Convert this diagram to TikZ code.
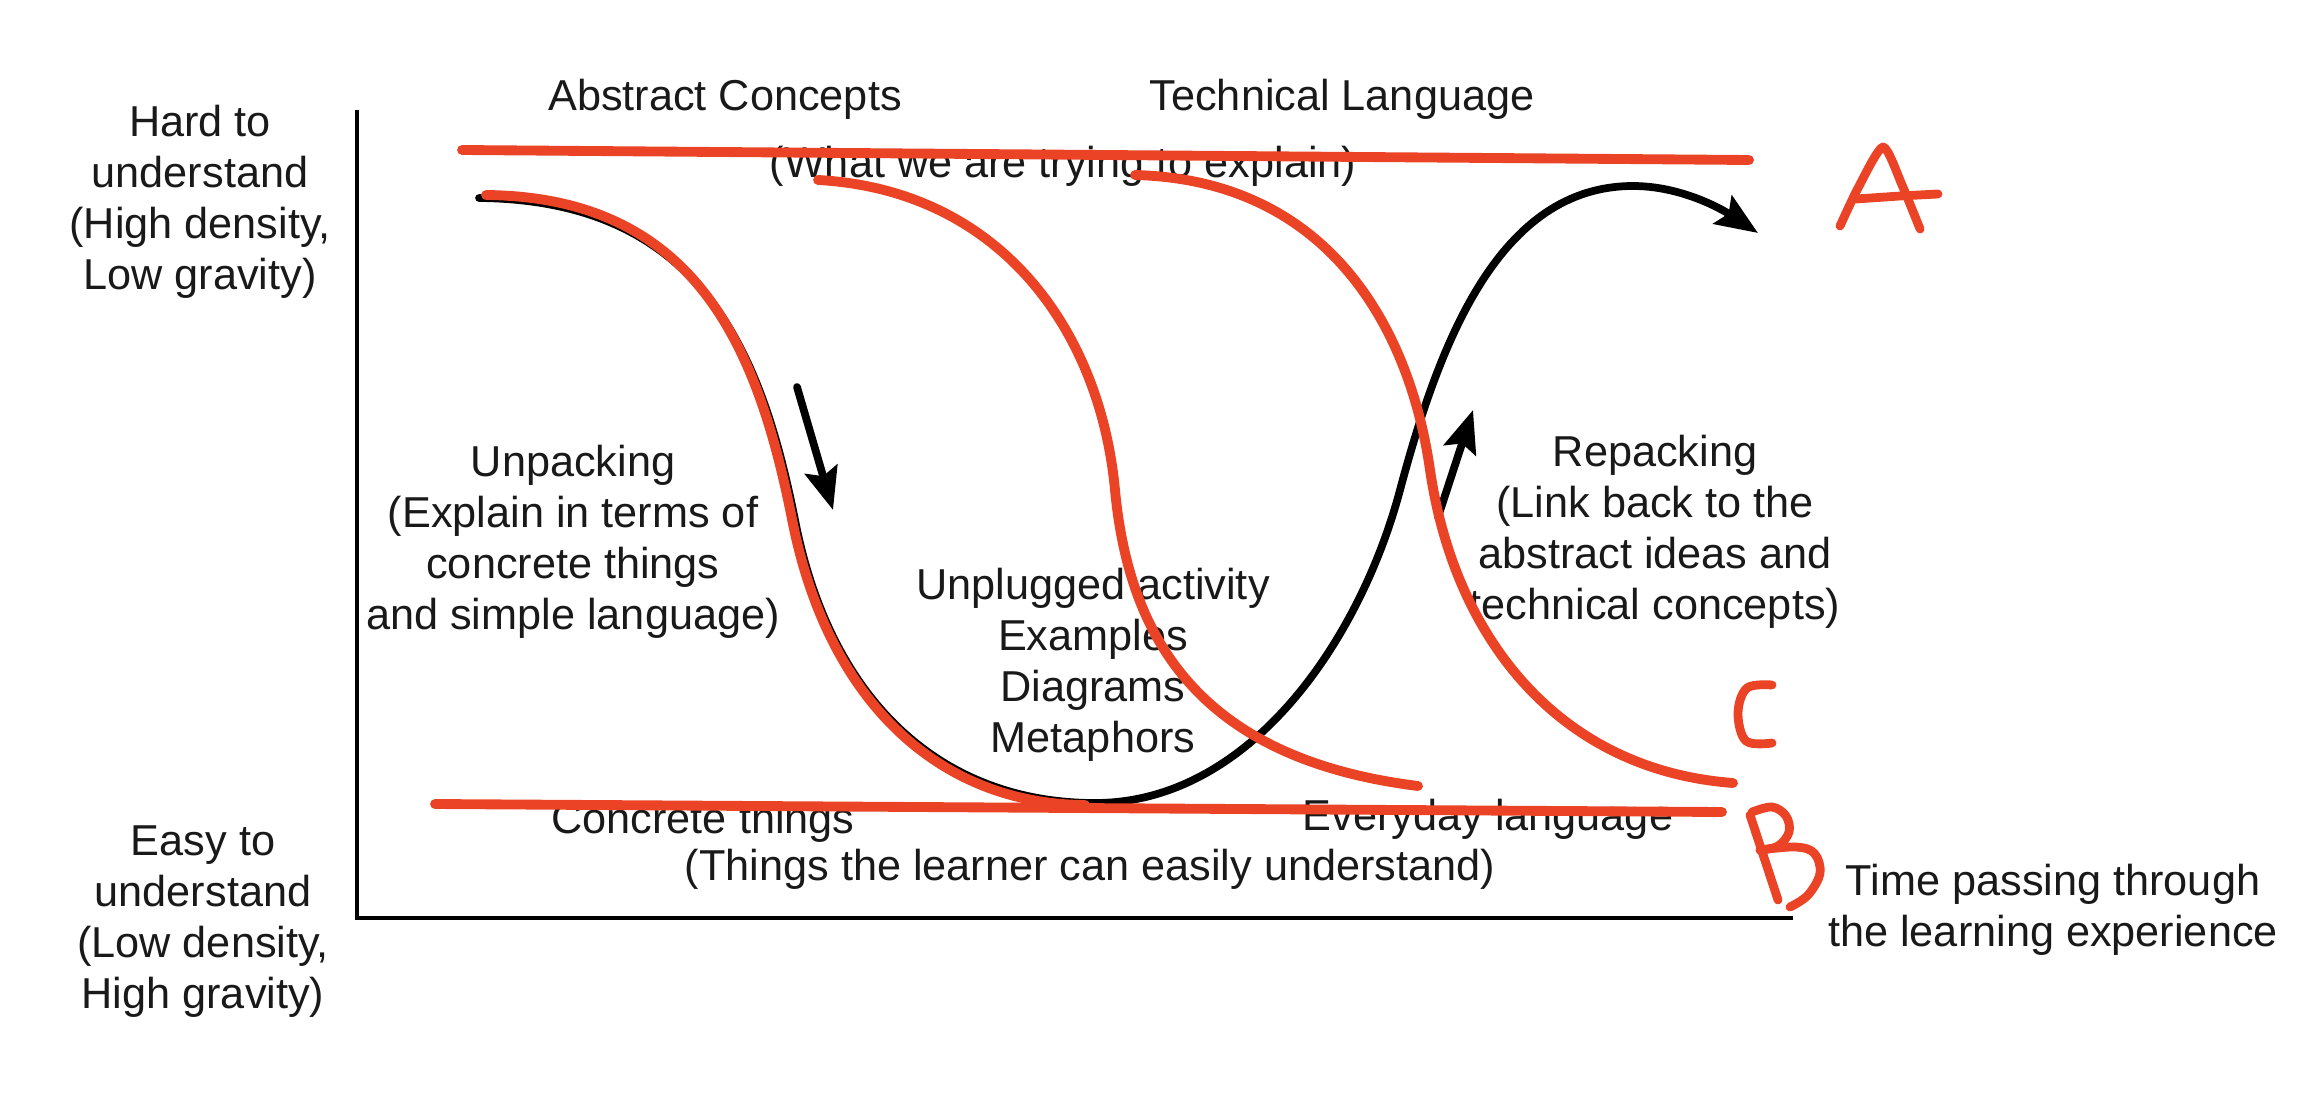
\documentclass[tikz,border=0pt]{standalone}
\usepackage{fontspec}
\setmainfont{Liberation Sans}
\usetikzlibrary{arrows.meta}
\definecolor{penred}{RGB}{234,67,37}
\begin{document}
\begin{tikzpicture}[x=0.01cm,y=-0.01cm,
  lbl/.style={font=\fontsize{12.3}{14.5}\selectfont, align=center, inner sep=0pt, text=black!90},
  axisline/.style={line width=1.2pt, black},
  blk/.style={line width=2.2pt, line cap=round, line join=round},
  tipped/.style={-{Stealth[length=12pt,width=9.5pt,inset=2pt]}},
  pen/.style={penred, line width=2.8pt, line cap=round, line join=round},
  letter/.style={penred, line width=2.5pt, line cap=round, line join=round}]
\useasboundingbox (0,0) rectangle (2304,1094);

% axes
\coordinate (ytop) at (357,110);
\coordinate (origin) at (357,918);
\coordinate (xend) at (1793,918);
\draw[axisline] (ytop) -- (origin) -- (xend);

% texts
\node[lbl] (hard) at (200,202) {Hard to\\understand\\(High density,\\Low gravity)};
\node[lbl] (easy) at (203,922) {Easy to\\understand\\(Low density,\\High gravity)};
\node[lbl] (abstract) at (725,99) {Abstract Concepts};
\node[lbl] (technical) at (1342,99) {Technical Language};
\node[lbl] (what) at (1063,166) {(What we are trying to explain)};
\node[lbl] (unpack) at (573,542) {Unpacking\\(Explain in terms of\\concrete things\\and simple language)};
\node[lbl] (unplug) at (1093,665) {Unplugged activity\\Examples\\Diagrams\\Metaphors};
\node[lbl] (repack) at (1655,532) {Repacking\\(Link back to the\\abstract ideas and\\technical concepts)};
\node[lbl] (concrete) at (703,822) {Concrete things};
\node[lbl] (everyday) at (1488,819) {Everyday language};
\node[lbl] (things) at (1090,869) {(Things the learner can easily understand)};
\node[lbl] (time) at (2053,910) {Time passing through\\the learning experience};

% black learning curve
\coordinate (cstart) at (479,198);
\coordinate (cdown) at (795,520);
\coordinate (cbottom) at (1095,803);
\coordinate (cup) at (1400,490);
\coordinate (ctop) at (1633,186);
\coordinate (cend) at (1758,233);
\draw[blk,tipped] (cstart)
  .. controls (700,200) and (761,350) .. (cdown)
  .. controls (830,700) and (940,803) .. (cbottom)
  .. controls (1250,803) and (1360,640) .. (cup)
  .. controls (1440,340) and (1500,186) .. (ctop)
  .. controls (1680,186) and (1720,208) .. (cend);

% direction arrows
\coordinate (dnA) at (797,387);
\coordinate (dnB) at (833,510);
\coordinate (upA) at (1438,517);
\coordinate (upB) at (1473,410);
\draw[blk,tipped] (dnA) -- (dnB);
\draw[blk,tipped] (upA) -- (upB);

% red pen lines
\coordinate (a1) at (462,150);
\coordinate (a2) at (1749,160);
\coordinate (b1) at (435,804);
\coordinate (b2) at (1722,812);
\draw[pen] (a1) -- (a2);
\draw[pen] (b1) -- (b2);

\draw[pen] (486,195) .. controls (697,197) and (758,349) .. (792,519)
  .. controls (827,699) and (937,804) .. (1085,805);

\draw[pen] (818,180) .. controls (1000,190) and (1100,330) .. (1115,490)
  .. controls (1130,650) and (1210,760) .. (1418,786);

\draw[pen] (1135,175) .. controls (1330,180) and (1410,330) .. (1430,470)
  .. controls (1455,640) and (1560,770) .. (1733,783);

% handwritten letters
% A
\draw[letter] plot[smooth,tension=0.4] coordinates {(1840,226) (1858,188) (1883,147) (1902,185) (1920,229)};
\draw[letter] (1856,199) -- (1900,196) -- (1938,194);
% C
\draw[letter] plot[smooth,tension=0.6] coordinates {(1772,685) (1747,688) (1738,713) (1746,741) (1772,743)};
% B
\draw[letter] (1750,815) -- (1778,900);
\draw[letter] plot[smooth,tension=0.6] coordinates {(1752,812) (1772,807) (1786,816) (1789,832) (1778,846) (1760,850)};
\draw[letter] plot[smooth,tension=0.6] coordinates {(1760,850) (1795,847) (1814,853) (1820,873) (1808,895) (1790,907)};
\end{tikzpicture}
\end{document}
